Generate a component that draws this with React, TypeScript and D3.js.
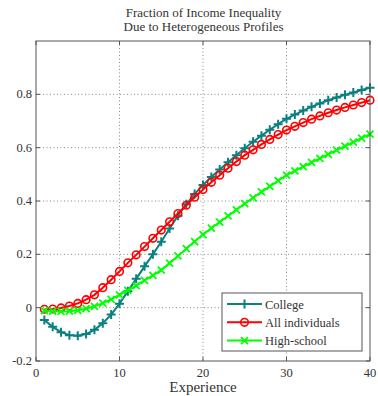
import React from "react";
import * as d3 from "d3";

const experience = d3.range(1, 41);
const college = [
  -0.046, -0.072, -0.092, -0.103, -0.105, -0.099, -0.083, -0.058, -0.026, 0.015,
  0.062, 0.108, 0.155, 0.2, 0.247, 0.297, 0.345, 0.388, 0.426, 0.46,
  0.49, 0.518, 0.545, 0.572, 0.598, 0.622, 0.645, 0.667, 0.688, 0.708,
  0.724, 0.739, 0.753, 0.766, 0.778, 0.788, 0.798, 0.807, 0.816, 0.825,
];
const allIndividuals = [
  -0.006, -0.005, -0.001, 0.006, 0.016, 0.03, 0.048, 0.075, 0.105, 0.136,
  0.168, 0.198, 0.229, 0.26, 0.291, 0.322, 0.353, 0.384, 0.414, 0.443,
  0.47, 0.497, 0.523, 0.548, 0.572, 0.592, 0.612, 0.631, 0.649, 0.666,
  0.68, 0.694, 0.707, 0.719, 0.731, 0.741, 0.751, 0.76, 0.769, 0.778,
];
const highSchool = [
  -0.011, -0.013, -0.014, -0.013, -0.01, -0.004, 0.005, 0.017, 0.031, 0.048,
  0.065, 0.083, 0.102, 0.121, 0.141, 0.167, 0.194, 0.221, 0.248, 0.274,
  0.298, 0.321, 0.344, 0.367, 0.39, 0.412, 0.434, 0.455, 0.476, 0.497,
  0.513, 0.529, 0.545, 0.56, 0.575, 0.591, 0.606, 0.621, 0.636, 0.651,
];
const xTicks = [0, 10, 20, 30, 40];
const yTicks = [-0.2, 0, 0.2, 0.4, 0.6, 0.8];
const yTickLabels = ["-0.2", "0", "0.2", "0.4", "0.6", "0.8"];
const seriesNames = ["College", "All individuals", "High-school"];
const seriesColors = ["#0a8080", "#ff0000", "#00ff00"];
const seriesMarkers = ["plus", "circle", "cross"];
const titleLines = ["Fraction of Income Inequality", "Due to Heterogeneous Profiles"];

const W = 378, H = 396;
const L = 36, R = 370, T = 41, B = 361;
const FONT = "'Liberation Serif', 'Times New Roman', serif";

function Marker({ type, x, y, color }: { type: string; x: number; y: number; color: string }) {
  if (type === "plus") {
    const s = 4.5;
    return <path d={`M${x - s},${y}H${x + s}M${x},${y - s}V${y + s}`} stroke={color} strokeWidth={2} fill="none" />;
  }
  if (type === "circle") {
    return <circle cx={x} cy={y} r={3.8} stroke={color} strokeWidth={1.6} fill="none" />;
  }
  const s = 3.5;
  return <path d={`M${x - s},${y - s}L${x + s},${y + s}M${x - s},${y + s}L${x + s},${y - s}`} stroke={color} strokeWidth={1.8} fill="none" />;
}

export default function App() {
  const x = d3.scaleLinear().domain([0, 40]).range([L, R]);
  const y = d3.scaleLinear().domain([-0.2, 1.0]).range([B, T]);
  const data = [college, allIndividuals, highSchool];
  const line = d3.line<number>().x((_, i) => x(experience[i])).y((d) => y(d));

  const legX = 222, legY = 293, legW = 140, legH = 58;
  return (
    <svg width={W} height={H} style={{ position: "absolute", left: 0, top: 0, background: "#fff" }}>
      <rect x={0} y={0} width={W} height={H} fill="#fff" />
      {titleLines.map((t, i) => (
        <text key={i} x={(L + R) / 2 + 0.5} y={17 + i * 14} textAnchor="middle" fontFamily={FONT} fontSize={13} fill="#333">{t}</text>
      ))}
      {/* grid */}
      {xTicks.slice(1, -1).map((t) => (
        <line key={"gx" + t} x1={x(t)} x2={x(t)} y1={T} y2={B} stroke="#888" strokeWidth={1} strokeDasharray="1,2.5" />
      ))}
      {yTicks.slice(1).map((t) => (
        <line key={"gy" + t} x1={L} x2={R} y1={y(t)} y2={y(t)} stroke="#888" strokeWidth={1} strokeDasharray="1,2.5" />
      ))}
      {/* ticks */}
      {xTicks.map((t) => (
        <g key={"tx" + t}>
          <line x1={x(t)} x2={x(t)} y1={B} y2={B - 4} stroke="#555" />
          <line x1={x(t)} x2={x(t)} y1={T} y2={T + 4} stroke="#555" />
          <text x={x(t)} y={377} textAnchor="middle" fontFamily={FONT} fontSize={12.5} fill="#333">{t}</text>
        </g>
      ))}
      {yTicks.map((t, i) => (
        <g key={"ty" + t}>
          <line x1={L} x2={L + 4} y1={y(t)} y2={y(t)} stroke="#555" />
          <line x1={R} x2={R - 4} y1={y(t)} y2={y(t)} stroke="#555" />
          <text x={32} y={y(t) + 4} textAnchor="end" fontFamily={FONT} fontSize={12.5} fill="#333">{yTickLabels[i]}</text>
        </g>
      ))}
      {/* series */}
      {data.map((vals, si) => (
        <g key={"s" + si}>
          <path d={line(vals) || ""} fill="none" stroke={seriesColors[si]} strokeWidth={2} />
          {vals.map((v, i) => (
            <Marker key={i} type={seriesMarkers[si]} x={x(experience[i])} y={y(v)} color={seriesColors[si]} />
          ))}
        </g>
      ))}
      {/* frame */}
      <rect x={L} y={T} width={R - L} height={B - T} fill="none" stroke="#555" strokeWidth={1} />
      <text x={(L + R) / 2} y={392} textAnchor="middle" fontFamily={FONT} fontSize={15} fill="#333">Experience</text>
      {/* legend */}
      <rect x={legX} y={legY} width={legW} height={legH} fill="#fff" stroke="#555" strokeWidth={1} />
      {seriesNames.map((n, i) => {
        const ly = 304 + i * 18.3;
        return (
          <g key={"l" + i}>
            <line x1={227} x2={262} y1={ly} y2={ly} stroke={seriesColors[i]} strokeWidth={2} />
            <Marker type={seriesMarkers[i]} x={244.5} y={ly} color={seriesColors[i]} />
            <text x={265} y={ly + 4.5} fontFamily={FONT} fontSize={12.5} fill="#333">{n}</text>
          </g>
        );
      })}
    </svg>
  );
}
